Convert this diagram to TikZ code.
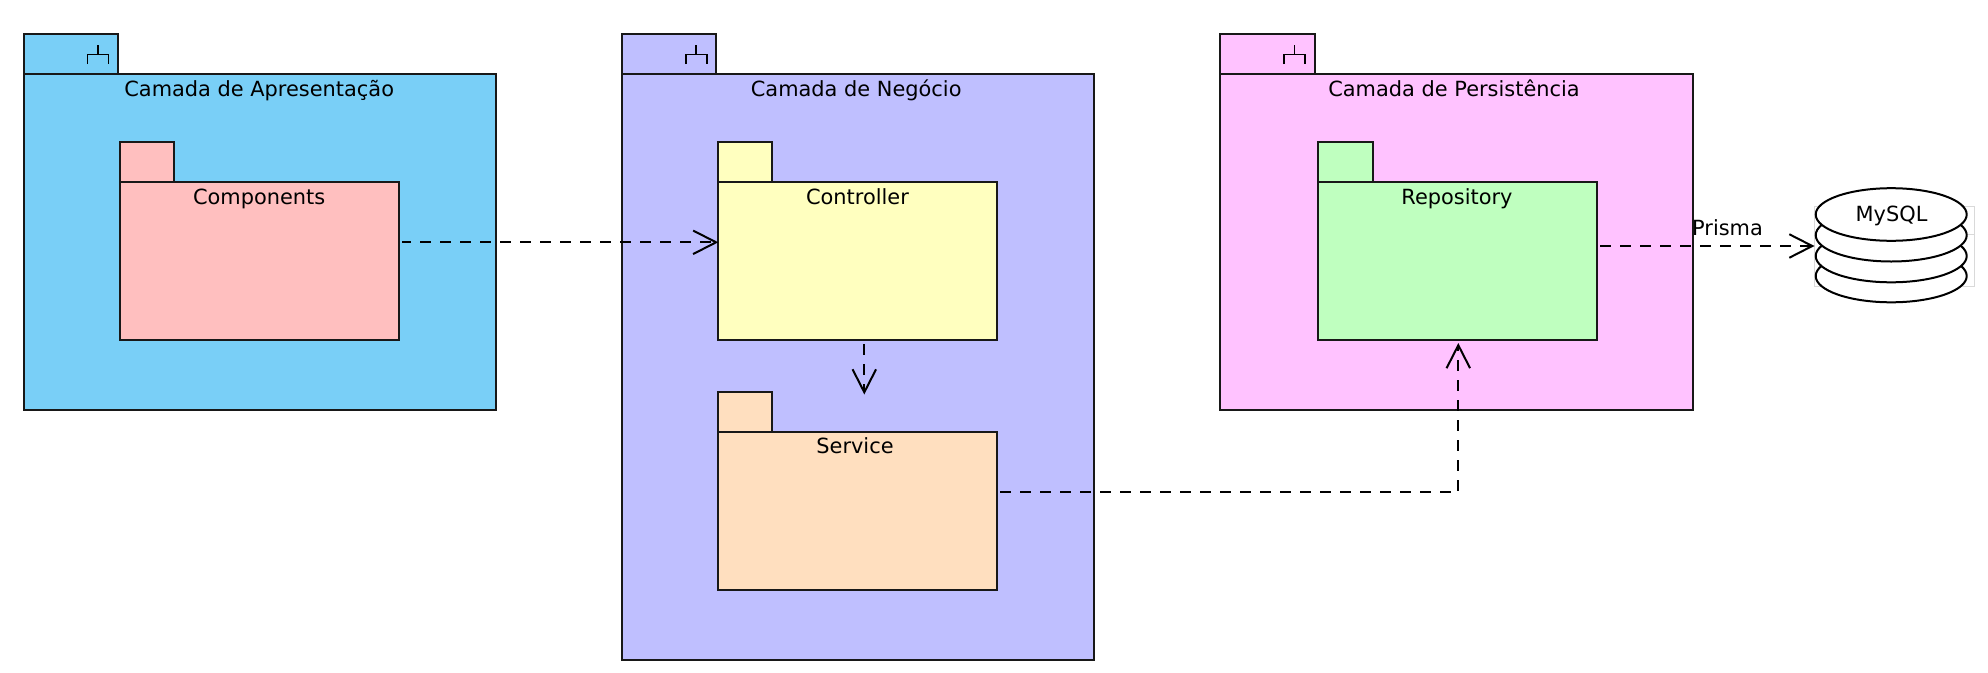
\documentclass[tikz,border=0pt]{standalone}
\usepackage{fontspec}
\setmainfont{DejaVu Sans}
\usetikzlibrary{arrows.meta,calc,shapes.geometric}
\definecolor{cpres}{HTML}{79CFF7}
\definecolor{cneg}{HTML}{BFBFFF}
\definecolor{cper}{HTML}{FFC2FF}
\definecolor{ccomp}{HTML}{FFBFBF}
\definecolor{cctrl}{HTML}{FFFFBF}
\definecolor{cserv}{HTML}{FFDFBF}
\definecolor{crepo}{HTML}{BFFFBF}
\definecolor{cline}{HTML}{181818}
\tikzset{
  boxshape/.style={draw=cline,line width=2pt,rectangle,inner sep=0pt,outer sep=0pt,anchor=north west},
  lbl/.style={anchor=base,inner sep=0pt,outer sep=0pt,text=black,font=\fontsize{20.9}{24}\selectfont},
  dep/.style={draw=black,line width=2pt,dash pattern=on 10.5pt off 9.5pt,
     -{Straight Barb[length=23pt,width=23.5pt,line width=2pt]}},
  db/.style={draw=black,line width=2pt,fill=white,ellipse,inner sep=0pt,outer sep=0pt,minimum width=151pt,minimum height=52.6pt},
  icon/.style={draw=black,line width=1.9pt},
}
\begin{document}
\begin{tikzpicture}[x=1pt,y=-1pt]
\useasboundingbox (0,0) rectangle (1988,672);
% --- packages
\newcommand{\pkg}[8]{% name,x0,x1,tabx1,tabtop,hdr,bottom,colour
  \node[boxshape,fill=#8,minimum width={#4-#2},minimum height={#6-#5}] (#1tab) at (#2,#5) {};
  \node[boxshape,fill=#8,minimum width={#3-#2},minimum height={#7-#6}] (#1) at (#2,#6) {};
}
\pkg{pres}{24}{496.2}{118}{34}{74}{410}{cpres}
\pkg{neg}{622}{1094.4}{716.2}{34}{74}{660}{cneg}
\pkg{per}{1220.3}{1692.5}{1314.5}{34}{74}{410}{cper}
\pkg{comp}{120.3}{398.5}{174.3}{142}{182}{340}{ccomp}
\pkg{ctrl}{718.3}{996.5}{772.3}{142}{182}{340}{cctrl}
\pkg{serv}{718.3}{996.5}{772.3}{392}{432}{590}{cserv}
\pkg{repo}{1318.3}{1596.5}{1372.5}{142}{182}{340}{crepo}
% --- package icons
\draw[icon] ($(prestab.north east)+(-20,11)$) -- +(0,10) ($(prestab.north east)+(-30.5,30)$) |- ++(21,-9.5) -- +(0,9.5);
\draw[icon] ($(negtab.north east)+(-20,11)$) -- +(0,10) ($(negtab.north east)+(-30.5,30)$) |- ++(21,-9.5) -- +(0,9.5);
\draw[icon] ($(pertab.north east)+(-20,11)$) -- +(0,10) ($(pertab.north east)+(-30.5,30)$) |- ++(21,-9.5) -- +(0,9.5);
% --- labels
\node[lbl] (tpres) at (259.2,96) {Camada de Apresentação};
\node[lbl] (tneg) at (856.2,96) {Camada de Negócio};
\node[lbl] (tper) at (1454,96) {Camada de Persistência};
\node[lbl] (tcomp) at (259.2,204) {Components};
\node[lbl] (tctrl) at (857.5,204) {Controller};
\node[lbl] (tserv) at (855,453.7) {Service};
\node[lbl] (trepo) at (1457,204) {Repository};
% --- database
\draw[draw=black!15,line width=1pt] (1814.5,206.7) rectangle (1974.3,286) (1814.5,234) -- (1974.3,234);
\node[db] (d4) at (1891.2,276) {};
\node[db] (d3) at (1891.2,256) {};
\node[db] (d2) at (1891.2,235.2) {};
\node[db] (d1) at (1891.2,214.5) {};
\node[lbl] (tdb) at (1891.5,221.7) {MySQL};
\node[lbl] (tpr) at (1727.5,235.7) {Prisma};
% --- connectors
\coordinate (c2s) at (864.3,344);
\coordinate (c2e) at (864.3,394.5);
\coordinate (c3e) at (1458.3,343);
\coordinate (c4e) at (1814.5,246);
\draw[dep,dash phase=2pt] ([xshift=3.5pt,yshift=18.7pt]comp.east) -- ([xshift=0pt,yshift=18.7pt]ctrl.west);
\draw[dep] (c2s) -- (c2e);
\draw[dep] ([xshift=3.5pt,yshift=18.7pt]serv.east) -| (c3e);
\draw[dep] ([xshift=3.5pt,yshift=15pt]repo.east) -- (c4e);
\end{tikzpicture}
\end{document}
